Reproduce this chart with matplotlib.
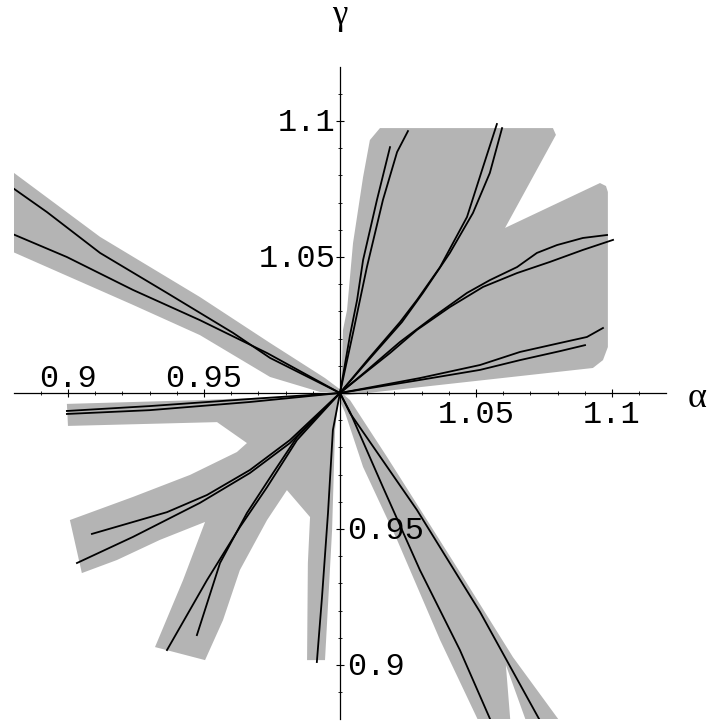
import matplotlib.pyplot as plt
from matplotlib.patches import Polygon

# shaded regions, vertices as (alpha, gamma)
region_upper_right = [(1.0004, 1.0), (1.0011, 1.0232), (1.0026, 1.0305), (1.0048, 1.0551),
                      (1.0085, 1.0794), (1.0110, 1.0930), (1.0147, 1.0974), (1.0783, 1.0974),
                      (1.0794, 1.0949), (1.0607, 1.0607), (1.0956, 1.0772), (1.0978, 1.0761),
                      (1.0985, 1.0739), (1.0985, 1.0169), (1.0967, 1.0121), (1.0930, 1.0092),
                      (1.0, 0.9989)]
region_upper_left = [(0.8760, 1.0840), (0.9118, 1.0574), (0.9485, 1.0353), (0.9743, 1.0184),
                     (0.9945, 1.0055), (1.0018, 1.0), (0.9926, 1.0004), (0.9743, 1.0059),
                     (0.9485, 1.0213), (0.9239, 1.0324), (0.8760, 1.0535)]
region_lower_left = [(0.9996, 0.9996), (0.9853, 0.9989), (0.9485, 0.9974), (0.8996, 0.9960),
                     (0.9000, 0.9879), (0.9548, 0.9893), (0.9658, 0.9816), (0.9621, 0.9783),
                     (0.9449, 0.9699), (0.9239, 0.9618), (0.9007, 0.9533), (0.9051, 0.9338),
                     (0.9180, 0.9386), (0.9338, 0.9460), (0.9504, 0.9526), (0.9423, 0.9312),
                     (0.9320, 0.9066), (0.9504, 0.9018), (0.9570, 0.9165), (0.9632, 0.9349),
                     (0.9732, 0.9533), (0.9805, 0.9643), (0.9890, 0.9544), (0.9882, 0.9375),
                     (0.9879, 0.9018), (0.9945, 0.9018), (0.9971, 0.9496), (0.9982, 0.9864),
                     (0.9996, 0.9989)]
region_lower_right = [(0.9993, 0.9985), (1.0018, 0.9930), (1.0085, 0.9728), (1.0210, 0.9460),
                      (1.0368, 0.9092), (1.0530, 0.8750), (1.0630, 0.8750), (1.0610, 0.9000),
                      (1.0700, 0.8750), (1.0840, 0.8750), (1.0636, 0.9029), (1.0452, 0.9324),
                      (1.0320, 0.9533), (1.0173, 0.9765), (1.0037, 0.9974), (1.0007, 1.0)]

# curves (alpha, gamma)
curve_a1 = [(1.0, 1.0), (1.0048, 1.0221), (1.0099, 1.0463), (1.0158, 1.0710), (1.0210, 1.0886), (1.0250, 1.0963)]
curve_a2 = [(1.0, 1.0), (1.0037, 1.0213), (1.0063, 1.0342), (1.0085, 1.0489), (1.0136, 1.0710), (1.0184, 1.0904)]
curve_b1 = [(1.0, 1.0), (1.0110, 1.0132), (1.0221, 1.0261), (1.0283, 1.0342), (1.0368, 1.0463),
            (1.0467, 1.0647), (1.0526, 1.0831), (1.0577, 1.0989)]
curve_b2 = [(1.0, 1.0), (1.0118, 1.0136), (1.0228, 1.0261), (1.0305, 1.0368), (1.0404, 1.0515),
            (1.0489, 1.0662), (1.0551, 1.0809), (1.0596, 1.0974)]
curve_c1 = [(1.0, 1.0), (1.0092, 1.0077), (1.0165, 1.0140), (1.0221, 1.0188), (1.0342, 1.0279),
            (1.0467, 1.0368), (1.0551, 1.0415), (1.0651, 1.0463), (1.0724, 1.0515), (1.0798, 1.0544),
            (1.0893, 1.0570), (1.0982, 1.0581)]
curve_c2 = [(1.0, 1.0), (1.0092, 1.0074), (1.0184, 1.0147), (1.0283, 1.0232), (1.0404, 1.0316),
            (1.0526, 1.0390), (1.0651, 1.0441), (1.0772, 1.0482), (1.0893, 1.0526), (1.1004, 1.0563)]
curve_d1 = [(1.0, 1.0), (1.0294, 1.0055), (1.0515, 1.0103), (1.0662, 1.0151), (1.0809, 1.0184),
            (1.0908, 1.0206), (1.0967, 1.0239)]
curve_d2 = [(1.0, 1.0), (1.0294, 1.0048), (1.0515, 1.0085), (1.0662, 1.0121), (1.0809, 1.0154), (1.0901, 1.0176)]
curve_u1 = [(0.8760, 1.0780), (0.8923, 1.0665), (0.9118, 1.0515), (0.9364, 1.0368), (0.9607, 1.0221),
            (0.9743, 1.0129), (1.0, 1.0)]
curve_u2 = [(0.8760, 1.0600), (0.8996, 1.0500), (0.9239, 1.0379), (0.9485, 1.0268), (0.9732, 1.0147), (1.0, 1.0)]
curve_e1 = [(0.8996, 0.9934), (0.9301, 0.9952), (0.9669, 0.9978), (1.0, 1.0)]
curve_e2 = [(0.8996, 0.9923), (0.9301, 0.9937), (0.9669, 0.9967), (1.0, 1.0)]
curve_f1 = [(0.9088, 0.9482), (0.9364, 0.9562), (0.9511, 0.9625), (0.9669, 0.9717), (0.9816, 0.9827), (1.0, 1.0)]
curve_f2 = [(0.9033, 0.9375), (0.9239, 0.9471), (0.9485, 0.9596), (0.9669, 0.9706), (0.9816, 0.9816), (1.0, 1.0)]
curve_g1 = [(0.9364, 0.9055), (0.9511, 0.9312), (0.9632, 0.9507), (0.9732, 0.9654), (0.9842, 0.9827), (1.0, 1.0)]
curve_g2 = [(0.9474, 0.9110), (0.9559, 0.9375), (0.9658, 0.9559), (0.9754, 0.9706), (0.9842, 0.9838), (1.0, 1.0)]
curve_h = [(0.9915, 0.9011), (0.9934, 0.9250), (0.9956, 0.9559), (0.9974, 0.9864), (1.0, 1.0)]
curve_i1 = [(1.0, 1.0), (1.0037, 0.9930), (1.0158, 0.9654), (1.0294, 0.9349), (1.0441, 0.9055), (1.0570, 0.8760)]
curve_i2 = [(1.0, 1.0), (1.0037, 0.9926), (1.0283, 0.9570), (1.0515, 0.9195), (1.0755, 0.8760)]

regions = [region_upper_right, region_upper_left, region_lower_left, region_lower_right]
curves = [curve_a1, curve_a2, curve_b1, curve_b2, curve_c1, curve_c2, curve_d1, curve_d2,
          curve_u1, curve_u2, curve_e1, curve_e2, curve_f1, curve_f2, curve_g1, curve_g2,
          curve_h, curve_i1, curve_i2]

major_ticks = [0.9, 0.95, 1.05, 1.1]
tick_labels = ['0.9', '0.95', '1.05', '1.1']
minor_ticks = [0.89, 0.91, 0.92, 0.93, 0.94, 0.96, 0.97, 0.98, 0.99,
               1.01, 1.02, 1.03, 1.04, 1.06, 1.07, 1.08, 1.09, 1.11]

fig = plt.figure(figsize=(7.11, 7.21), dpi=100)
ax = fig.add_axes([0.0191, 0.0022, 0.9181, 0.9054])
ax.set_xlim(0.88, 1.12)
ax.set_ylim(0.88, 1.12)

for region in regions:
    ax.add_patch(Polygon(region, closed=True, facecolor='#b4b4b4', edgecolor='none', zorder=1))

for curve in curves:
    xs, ys = zip(*curve)
    ax.plot(xs, ys, color='black', lw=1.3, solid_joinstyle='round', zorder=3)

# axes crossing at (1, 1)
for side in ['top', 'right']:
    ax.spines[side].set_visible(False)
for side in ['left', 'bottom']:
    ax.spines[side].set_position(('data', 1.0))
    ax.spines[side].set_linewidth(0.9)
    ax.spines[side].set_zorder(2.5)

ax.set_xticks(major_ticks)
ax.set_yticks(major_ticks)
ax.set_xticks(minor_ticks, minor=True)
ax.set_yticks(minor_ticks, minor=True)
ax.tick_params(which='major', direction='inout', length=6, width=0.8,
               labelbottom=False, labelleft=False)
ax.tick_params(which='minor', direction='inout', length=2.5, width=0.6)

mono = dict(family='Liberation Mono', fontsize=23)
for v, lab in zip(major_ticks, tick_labels):
    if v < 1:
        ax.annotate(lab, (v, 1.0), xytext=(0, 4.5), textcoords='offset points',
                    ha='center', va='baseline', **mono)
        ax.annotate(lab, (1.0, v), xytext=(5, -7.5), textcoords='offset points',
                    ha='left', va='baseline', **mono)
    else:
        ax.annotate(lab, (v, 1.0), xytext=(0, -21.6), textcoords='offset points',
                    ha='center', va='baseline', **mono)
        ax.annotate(lab, (1.0, v), xytext=(-3, -7.2), textcoords='offset points',
                    ha='right', va='baseline', **mono)

ax.annotate('α', (1.12, 1.0), xytext=(22, -10), textcoords='offset points',
            ha='center', va='baseline', family='Liberation Serif', fontsize=26)
ax.annotate('γ', (1.0, 1.12), xytext=(0, 31), textcoords='offset points',
            ha='center', va='baseline', family='Liberation Serif', fontsize=25)

fig.savefig('out.png', dpi=100)
